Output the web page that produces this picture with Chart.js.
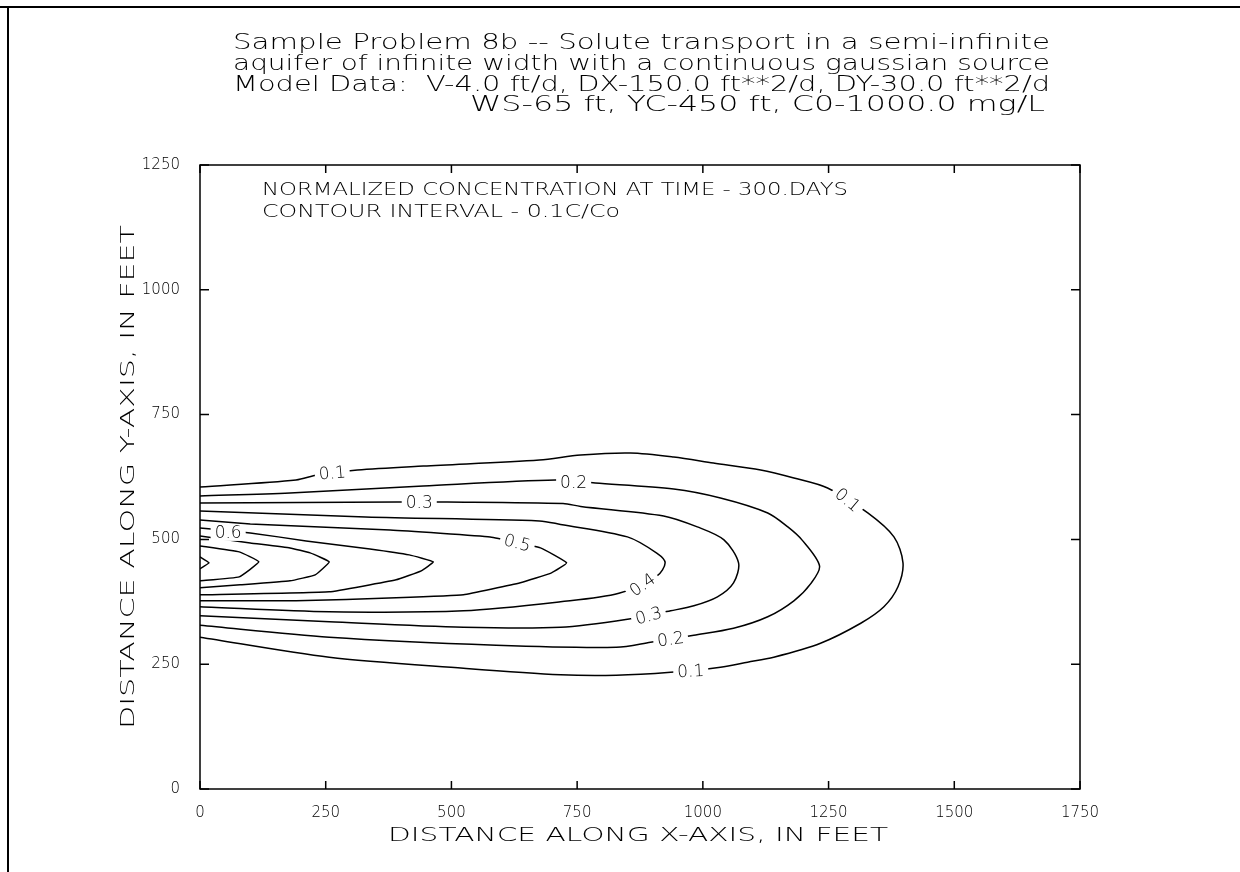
<!DOCTYPE html>
<html>
<head>
<meta charset="utf-8">
<script src="https://cdn.jsdelivr.net/npm/chart.js@4.4.1/dist/chart.umd.min.js"></script>
<style>
  html, body { margin: 0; padding: 0; background: #fff; }
  canvas { display: block; }
</style>
</head>
<body>
<canvas id="myChart" width="1240" height="872"></canvas>
<script>
// axis ticks (feet)
const xTicks = [0, 250, 500, 750, 1000, 1250, 1500, 1750];
const yTicks = [0, 250, 500, 750, 1000, 1250];

// contour levels C/Co and the traced points [x ft, y ft] of each line
const levels = [0.1, 0.2, 0.3, 0.4, 0.5, 0.6, 0.7, 0.8, 0.9];

const level01 = [[0,605],[191,619],[233,629],[313,639],[444,647],[675,659],[757,669],[856,673],[942,665],
  [1021,653],[1115,639],[1181,623],[1248,603],[1328,553],[1380,505],[1398,453],[1388,405],[1360,365],
  [1314,332],[1234,292],[1141,264],[1089,254],[1035,244],[936,234],[828,228],[717,229],[524,242],[257,264],[0,304]];
const level02 = [[0,587],[179,593],[444,607],[707,619],[786,613],[942,601],[1035,583],[1129,553],[1169,525],
  [1197,499],[1232,447],[1215,412],[1181,377],[1129,345],[1061,322],[982,308],[896,294],[828,284],[589,288],[257,304],[0,328]];
const level03 = [[0,573],[199,574],[392,575],[492,575],[722,572],[757,566],[922,547],[989,525],[1042,499],
  [1071,453],[1061,413],[1029,385],[982,367],[936,357],[856,341],[717,324],[524,324],[257,335],[0,347]];
const level04 = [[0,557],[329,545],[675,537],[717,530],[850,505],[909,472],[925,453],[909,427],[833,392],
  [717,375],[524,357],[257,355],[0,365]];
const level05 = [[0,539],[100,531],[378,519],[577,505],[677,483],[729,453],[699,433],[637,413],[524,389],
  [390,383],[191,377],[0,377]];
const level06 = [[0,523],[100,513],[211,497],[338,481],[416,469],[464,455],[440,437],[390,419],[257,395],[0,389]];
const level07 = [[0,507],[100,493],[179,483],[219,473],[257,455],[229,429],[179,417],[80,409],[0,403]];
const level08 = [[0,487],[78,475],[117,455],[78,425],[0,417]];
const level09 = [[0,465],[18,453],[0,441]];

const contourLines = [level01, level02, level03, level04, level05, level06, level07, level08, level09];

// contour labels: text, x ft, y ft, angle (deg)
const contourLabels = [
  ['0.1', 263, 633, -5], ['0.2', 743, 613, 0], ['0.3', 436, 573, 0], ['0.6', 56, 513, 0],
  ['0.5', 631, 493, 15], ['0.1', 1288, 579, 40], ['0.4', 880, 409, -35], ['0.3', 892, 347, -15],
  ['0.2', 936, 300, -8], ['0.1', 976, 236, -3]
];

const titleLines = [
  'Sample Problem 8b -- Solute transport in a semi-infinite',
  'aquifer of infinite width with a continuous gaussian source',
  'Model Data:  V-4.0 ft/d, DX-150.0 ft**2/d, DY-30.0 ft**2/d',
  'WS-65 ft, YC-450 ft, C0-1000.0 mg/L'
];
const noteLines = ['NORMALIZED CONCENTRATION AT TIME - 300.DAYS', 'CONTOUR INTERVAL - 0.1C/Co'];
const xTitle = 'DISTANCE ALONG X-AXIS, IN FEET';
const yTitle = 'DISTANCE ALONG Y-AXIS, IN FEET';

const FONT = '"DejaVu Sans"';

// draw text stretched between left and right at a baseline
function span(ctx, str, left, right, base, size) {
  ctx.save();
  ctx.font = '200 ' + size + 'px ' + FONT;
  ctx.textAlign = 'left';
  ctx.textBaseline = 'alphabetic';
  const w = ctx.measureText(str).width;
  ctx.translate(left, base);
  ctx.scale((right - left) / w, 1);
  ctx.fillStyle = '#000';
  ctx.fillText(str, 0, 0);
  ctx.restore();
}

const paperPlugin = {
  id: 'paper',
  afterDatasetsDraw(chart) {
    const ctx = chart.ctx;
    const a = chart.chartArea;
    const xs = chart.scales.x, ys = chart.scales.y;

    // contour labels, lines broken under them
    ctx.save();
    ctx.font = '200 17px ' + FONT;
    ctx.textAlign = 'center';
    ctx.textBaseline = 'middle';
    contourLabels.forEach(([t, x, y, ang]) => {
      const px = xs.getPixelForValue(x), py = ys.getPixelForValue(y);
      const w = ctx.measureText(t).width;
      ctx.save();
      ctx.translate(px, py);
      ctx.rotate(ang * Math.PI / 180);
      ctx.fillStyle = '#fff';
      ctx.fillRect(-w / 2 - 4, -8, w + 8, 16);
      ctx.fillStyle = '#000';
      ctx.fillText(t, 0, 1);
      ctx.restore();
    });
    ctx.restore();

    // plot frame and inward ticks
    ctx.save();
    ctx.strokeStyle = '#000';
    ctx.lineWidth = 1.5;
    ctx.strokeRect(a.left, a.top, a.right - a.left, a.bottom - a.top);
    ctx.beginPath();
    xTicks.forEach(v => {
      const p = xs.getPixelForValue(v);
      ctx.moveTo(p, a.top); ctx.lineTo(p, a.top + 8);
      ctx.moveTo(p, a.bottom); ctx.lineTo(p, a.bottom - 8);
    });
    yTicks.forEach(v => {
      const p = ys.getPixelForValue(v);
      ctx.moveTo(a.left, p); ctx.lineTo(a.left + 9, p);
      ctx.moveTo(a.right, p); ctx.lineTo(a.right - 9, p);
    });
    ctx.stroke();

    // page border
    ctx.lineWidth = 2;
    ctx.beginPath();
    ctx.moveTo(0, 7); ctx.lineTo(1240, 7);
    ctx.moveTo(8, 7); ctx.lineTo(8, 872);
    ctx.stroke();
    ctx.restore();

    // titles
    span(ctx, titleLines[0], 233, 1050, 49, 21);
    span(ctx, titleLines[1], 233, 1050, 70, 21);
    span(ctx, titleLines[2], 233, 1050, 91, 21);
    span(ctx, titleLines[3], 470, 1045, 111, 21);

    span(ctx, noteLines[0], 262, 848, 195, 18);
    span(ctx, noteLines[1], 262, 620, 217, 18);

    span(ctx, xTitle, 388, 888, 841, 19);
    ctx.save();
    ctx.translate(134, 477);
    ctx.rotate(-Math.PI / 2);
    span(ctx, yTitle, -252, 252, 0, 19);
    ctx.restore();
  }
};

const datasets = contourLines.map((pts, i) => ({
  label: String(levels[i]),
  data: pts.map(([x, y]) => ({ x, y })),
  showLine: true,
  borderColor: '#000',
  borderWidth: 1.5,
  pointRadius: 0,
  tension: levels[i] < 0.45 ? 0.3 : 0.1
}));

const tickFont = { family: 'DejaVu Sans', size: 15, weight: 200 };

new Chart(document.getElementById('myChart'), {
  type: 'scatter',
  data: { datasets },
  options: {
    responsive: false,
    animation: false,
    devicePixelRatio: 1,
    layout: { padding: { left: 0, right: 160, top: 165, bottom: 0 } },
    plugins: { legend: { display: false }, tooltip: { enabled: false } },
    scales: {
      x: {
        type: 'linear', min: 0, max: 1750,
        afterBuildTicks: s => { s.ticks = xTicks.map(v => ({ value: v })); },
        afterFit: s => { s.height = 83; },
        grid: { display: false, drawTicks: false },
        border: { display: false },
        ticks: { font: tickFont, color: '#000', padding: 15, maxRotation: 0, callback: v => String(v) }
      },
      y: {
        type: 'linear', min: 0, max: 1250,
        afterBuildTicks: s => { s.ticks = yTicks.map(v => ({ value: v })); },
        afterFit: s => { s.width = 200; },
        grid: { display: false, drawTicks: false },
        border: { display: false },
        ticks: { font: tickFont, color: '#000', padding: 20, callback: v => String(v) }
      }
    }
  },
  plugins: [paperPlugin]
});
</script>
</body>
</html>
